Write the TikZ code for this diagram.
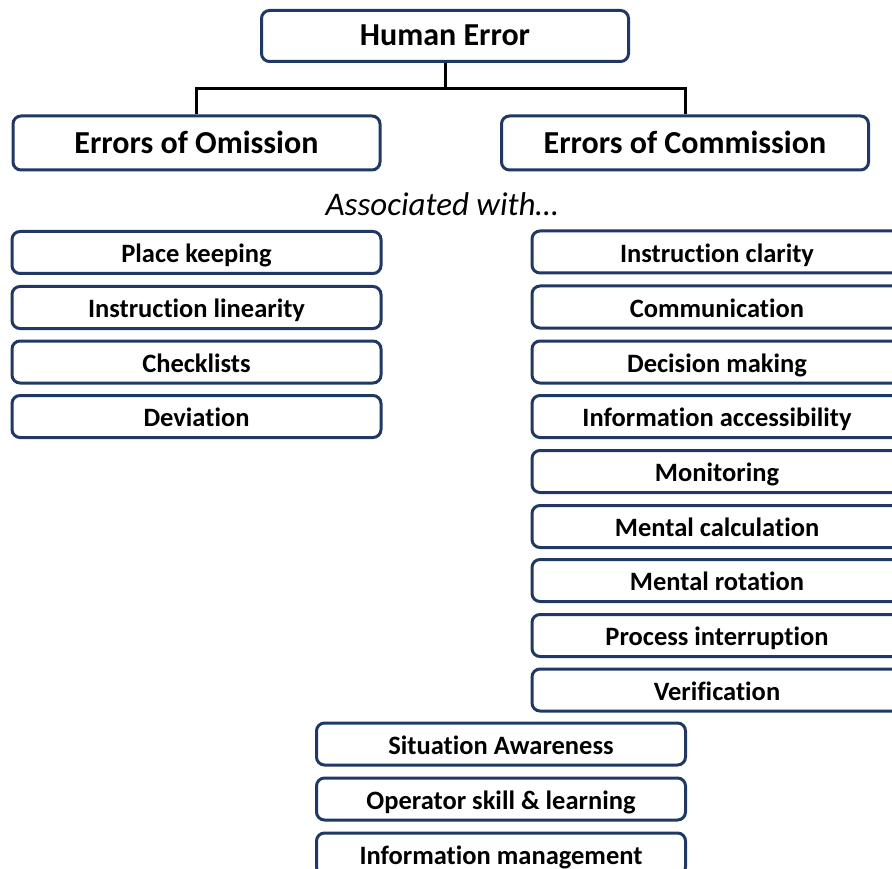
\documentclass[tikz,border=0pt]{standalone}
\usepackage{fontspec}
\setmainfont{Carlito}[Ligatures=NoCommon]
\definecolor{boxline}{RGB}{31,56,100}
\tikzset{
  x=1pt, y=-1pt,
  box/.style={draw=boxline, line width=3pt, rounded corners=8pt, fill=white,
    inner sep=0pt, align=center, text height=20pt, text depth=0pt,
    font=\bfseries\fontsize{26.5}{30}\selectfont},
  headbox/.style={box, minimum width=367pt, minimum height=54pt,
    text height=21pt, text depth=0pt,
    font=\bfseries\fontsize{32}{38}\selectfont},
  itembox/.style={box, minimum width=369pt, minimum height=42pt},
  link/.style={draw=black, line width=3pt}
}
\begin{document}
\begin{tikzpicture}
\useasboundingbox (0,0) rectangle (892,869);
\clip (0,0) rectangle (892,869);
% top of the hierarchy
\node[headbox, minimum height=51pt, text height=19pt] (he) at (445,36) {Human Error};
\node[headbox] (om) at (196.5,143) {Errors of Omission};
\node[headbox] (co) at (685,143) {Errors of Commission};
\draw[link] (he.south) -- ++(0,26) coordinate (j) -| (om.north);
\draw[link] (j) -| (co.north);
\node[font=\itshape\fontsize{33}{39}\selectfont] (aw) at (442,204) {Associated with…};
% omission factors
\node[itembox] (o1) at (196.5,252.5) {Place keeping};
\node[itembox] (o2) at (196.5,307.5) {Instruction linearity};
\node[itembox] (o3) at (196.5,362) {Checklists};
\node[itembox] (o4) at (196.5,416.5) {Deviation};
% commission factors
\node[itembox, minimum width=370pt] (c1) at (717,252) {Instruction clarity};
\node[itembox, minimum width=370pt] (c2) at (717,307) {Communication};
\node[itembox, minimum width=370pt] (c3) at (717,362) {Decision making};
\node[itembox, minimum width=370pt] (c4) at (717,416.5) {Information accessibility};
\node[itembox, minimum width=370pt] (c5) at (717,471.5) {Monitoring};
\node[itembox, minimum width=370pt] (c6) at (717,526.5) {Mental calculation};
\node[itembox, minimum width=370pt] (c7) at (717,580.5) {Mental rotation};
\node[itembox, minimum width=370pt] (c8) at (717,635.5) {Process interruption};
\node[itembox, minimum width=370pt] (c9) at (717,690) {Verification};
% shared factors
\node[itembox] (s1) at (501,744) {Situation Awareness};
\node[itembox] (s2) at (501,799) {Operator skill \& learning};
\node[itembox] (s3) at (501,854) {Information management};
\end{tikzpicture}
\end{document}
